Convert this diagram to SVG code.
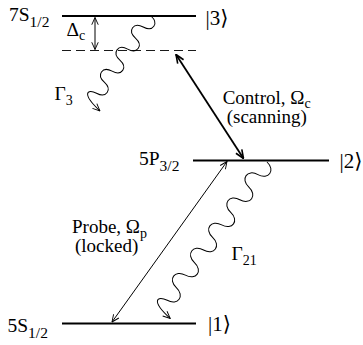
<svg xmlns="http://www.w3.org/2000/svg" width="363" height="345" viewBox="0 0 363 345">
<style>
text{font-family:'Liberation Serif','Times New Roman','DejaVu Serif',serif;fill:#000}
.lbl{font-size:19.5px}
.ann{font-size:19px}
.ket{font-size:21px}
.sub{font-size:15.5px}
.gsub{font-size:14px}
.level{stroke:#000;stroke-width:2.2;fill:none}
.thin{stroke:#000;stroke-width:1;fill:none}
.wave{stroke:#000;stroke-width:1;fill:none}
</style>
<defs>
<marker id="ah" viewBox="0 0 10 10" refX="9.5" refY="5" markerWidth="8.5" markerHeight="8.5" markerUnits="userSpaceOnUse" orient="auto-start-reverse">
<path d="M1,1.2 L9.5,5 L1,8.8" fill="none" stroke="#000" stroke-width="1.1"/>
</marker>
<marker id="ahb" viewBox="0 0 10 10" refX="9.5" refY="5" markerWidth="10" markerHeight="10" markerUnits="userSpaceOnUse" orient="auto-start-reverse">
<path d="M1,1.5 L9.5,5 L1,8.5" fill="none" stroke="#000" stroke-width="1.6"/>
</marker>
</defs>

<g id="level3">
<line class="level" x1="62" y1="16" x2="196" y2="16"/>
<text class="lbl" x="9" y="21">7S<tspan class="sub" dy="6">1/2</tspan></text>
<text class="ket" x="205.5" y="25">|3⟩</text>
</g>

<g id="virtual">
<line x1="62" y1="50.5" x2="196" y2="50.5" stroke="#000" stroke-width="0.9" stroke-dasharray="9,5"/>
</g>

<g id="level2">
<line class="level" x1="193" y1="160.5" x2="329" y2="160.5"/>
<text class="lbl" x="139" y="165">5P<tspan class="sub" dy="6">3/2</tspan></text>
<text class="ket" x="339.5" y="168">|2⟩</text>
</g>

<g id="level1">
<line class="level" x1="62" y1="323.5" x2="196" y2="323.5"/>
<text class="lbl" x="7.5" y="332">5S<tspan class="sub" dy="6">1/2</tspan></text>
<text class="ket" x="208" y="331">|1⟩</text>
</g>

<g id="connectors">
<line class="thin" x1="95" y1="17.5" x2="95" y2="49.5" stroke-width="0.8" marker-start="url(#ah)" marker-end="url(#ah)"/>
<line x1="176" y1="54.5" x2="243.5" y2="158.5" stroke="#000" stroke-width="1.8" marker-start="url(#ahb)" marker-end="url(#ahb)"/>
<line class="thin" x1="227" y1="161.5" x2="112" y2="322" marker-start="url(#ah)" marker-end="url(#ah)"/>
<path class="wave" transform="translate(151,16) rotate(125.2)" marker-end="url(#ah)" d="M0,0 c1.4,-11 12.1,-11 13.5,0 s12.1,11 13.5,0 s12.1,-11 13.5,0 s12.1,11 13.5,0 s12.1,-11 13.5,0 s12.1,11 13.5,0 s12.1,-11 13.5,0 c1.5,10 9,13 12.5,-13"/>
<path class="wave" transform="translate(267,162) rotate(125.8)" marker-end="url(#ah)" d="M0,0 c1.5,-12 14,-12 15.5,0 s14,12 15.5,0 s14,-12 15.5,0 s14,12 15.5,0 s14,-12 15.5,0 s14,12 15.5,0 s14,-12 15.5,0 s14,12 15.5,0 s14,-12 15.5,0 s14,12 15.5,0 s14,-12 15.5,0 c1.7,11 10,14 13,-13"/>
</g>

<g id="labels">
<text class="lbl" x="66.5" y="36">Δ<tspan class="gsub" dy="4">c</tspan></text>
<text class="lbl" x="54.5" y="100">Γ<tspan class="gsub" dy="5">3</tspan></text>
<text class="lbl" x="231.5" y="260">Γ<tspan class="gsub" dy="5">21</tspan></text>
<text class="ann" x="222.7" y="104">Control, Ω<tspan class="gsub" dy="4">c</tspan></text>
<text class="ann" x="226.7" y="122.5">(scanning)</text>
<text class="ann" x="72" y="233">Probe, Ω<tspan class="gsub" dy="5">p</tspan></text>
<text class="ann" x="75" y="252">(locked)</text>
</g>
</svg>
